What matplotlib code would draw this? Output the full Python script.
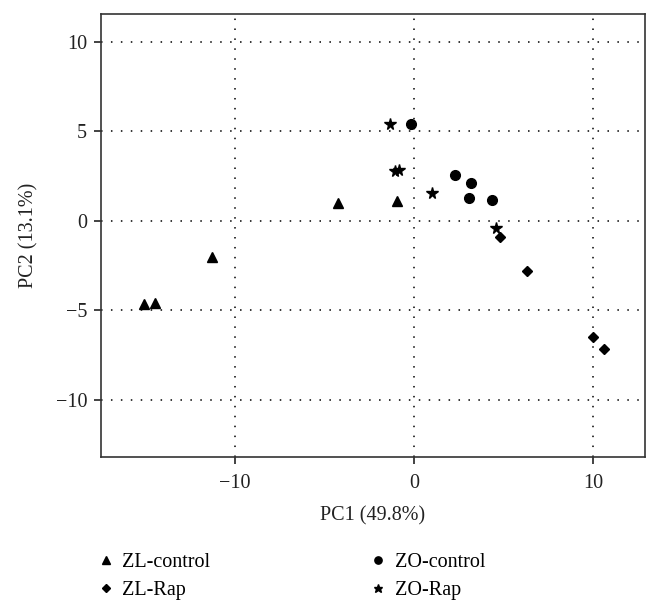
import matplotlib.pyplot as plt
import numpy as np

plt.rcParams['font.family'] = ['Liberation Serif', 'DejaVu Serif']

# PCA scores
zl_control_pc1 = [-15.1, -14.5, -11.3, -4.25, -0.95]
zl_control_pc2 = [-4.65, -4.6, -2.05, 1.0, 1.1]

zo_control_pc1 = [-0.15, 2.3, 3.2, 3.05, 4.35]
zo_control_pc2 = [5.4, 2.55, 2.1, 1.3, 1.15]

zl_rap_pc1 = [4.8, 6.3, 10.0, 10.6]
zl_rap_pc2 = [-0.9, -2.8, -6.5, -7.15]

zo_rap_pc1 = [-1.35, -1.05, -0.85, 1.0, 4.6]
zo_rap_pc2 = [5.4, 2.8, 2.85, 1.55, -0.4]

fig = plt.figure(figsize=(6.6, 6.13), dpi=100)
ax = fig.add_axes([0.153, 0.2545, 0.824, 0.7225])

h1, = ax.plot(zl_control_pc1, zl_control_pc2, '^', color='black', ms=7, label='ZL-control')
h2, = ax.plot(zl_rap_pc1, zl_rap_pc2, 'D', color='black', ms=5, label='ZL-Rap')
h3, = ax.plot(zo_control_pc1, zo_control_pc2, 'o', color='black', ms=7, label='ZO-control')
h4, = ax.plot(zo_rap_pc1, zo_rap_pc2, '*', color='black', ms=8.5, label='ZO-Rap')

ax.set_xlim(-17.5, 12.9)
ax.set_ylim(-13.2, 11.55)
ax.set_xticks([-10, 0, 10])
ax.set_yticks([-10, -5, 0, 5, 10])
ax.set_xticklabels(['\u221210', '0', '10'])
ax.set_yticklabels(['\u221210', '\u22125', '0', '5', '10'])
ax.grid(True, color='black', linestyle=(0, (1, 5.5)), linewidth=1.1)
ax.tick_params(direction='out', length=5, width=1.2, labelsize=14.5, colors='#222222')
ax.tick_params(axis='x', pad=7)
ax.tick_params(axis='y', pad=5)
for s in ax.spines.values():
    s.set_linewidth(1.2)
    s.set_color('#333333')

ax.set_xlabel('PC1 (49.8%)', fontsize=14.5, labelpad=10, color='#222222')
ax.set_ylabel('PC2 (13.1%)', fontsize=14.5, labelpad=12, color='#222222')

fig.legend(handles=[h1, h2, h3, h4], ncol=2, frameon=False, fontsize=14.5,
           loc='upper left', bbox_to_anchor=(0.121, 0.128), markerscale=0.75,
           handlelength=0.8, handletextpad=0.4, columnspacing=7.95, labelspacing=0.45)

fig.savefig('out.png', dpi=100)
